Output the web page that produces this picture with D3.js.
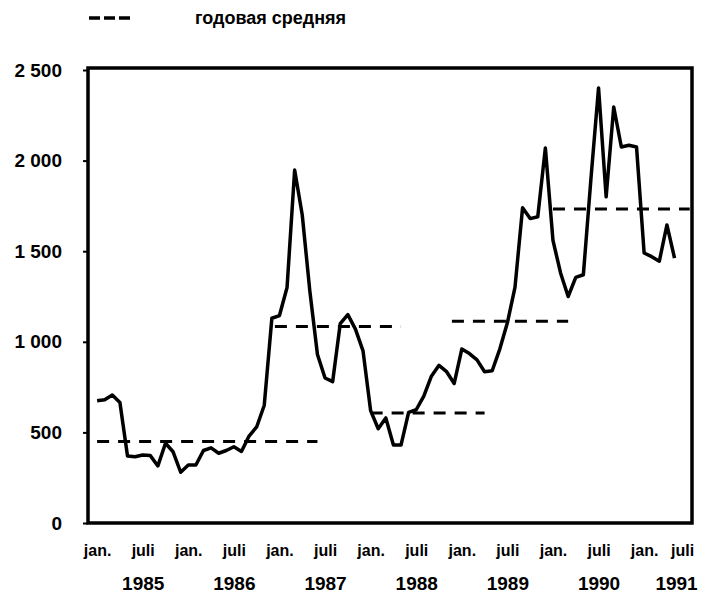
<!DOCTYPE html>
<html>
<head>
<meta charset="utf-8">
<script src="https://cdn.jsdelivr.net/npm/d3@7"></script>
<style>
  body { margin: 0; background: #fff; }
  svg { font-family: "Liberation Sans", Arial, sans-serif; }
</style>
</head>
<body>
<div id="chart"></div>
<script>
const ctx = {
    w: 702,
    h: 597,
    left: 88,
    right: 692,
    top: 70,
    bottom: 523
};

// monthly values, jan 1985 = month 0
const months = d3.range(77);
const values = [
    675, 680, 706, 665, 370, 366, 375, 372, 315, 440, 393, 280,
    320, 320, 400, 415, 385, 400, 421, 395, 480, 530, 650, 1130,
    1145, 1300, 1948, 1700, 1280, 930, 800, 780, 1100, 1150, 1070, 950,
    620, 520, 580, 430, 430, 610, 625, 700, 810, 870, 835, 770,
    960, 935, 900, 835, 840, 960, 1105, 1300, 1740, 1680, 1690, 2070,
    1560, 1380, 1250, 1355, 1370, 1900, 2401, 1800, 2296, 2075, 2085, 2075,
    1490, 1470, 1445, 1645, 1462
];

// annual average segments (start month, end month, level)
const avgStart = [0, 23.4, 36, 46.7, 60];
const avgEnd = [29, 40, 51, 62, 78];
const avgValue = [450, 1085, 607, 1113, 1733];

const yTicks = [0, 500, 1000, 1500, 2000, 2500];
const monthTicks = [0, 6, 12, 18, 24, 30, 36, 42, 48, 54, 60, 66, 72, 77];
const monthLabels = ["jan.", "juli", "jan.", "juli", "jan.", "juli", "jan.", "juli",
                     "jan.", "juli", "jan.", "juli", "jan.", "juli"];
const yearTicks = [6, 18, 30, 42, 54, 66, 76.2];
const yearLabels = ["1985", "1986", "1987", "1988", "1989", "1990", "1991"];

const legendLabel = "годовая средняя";

function createViz() {
    const svg = d3.select("#chart").append("svg")
        .attr("width", ctx.w)
        .attr("height", ctx.h);

    const x = d3.scaleLinear()
        .domain([-1.2, 78.3])
        .range([ctx.left, ctx.right]);
    const y = d3.scaleLinear()
        .domain([0, 2500])
        .range([ctx.bottom, ctx.top]);

    // legend
    svg.append("line")
        .attr("x1", 89).attr("x2", 131)
        .attr("y1", 18).attr("y2", 18)
        .attr("stroke", "#000")
        .attr("stroke-width", 3.5)
        .attr("stroke-dasharray", "11,4");
    svg.append("text")
        .attr("x", 195)
        .attr("y", 24)
        .style("font-size", "18px")
        .style("font-weight", "bold")
        .text(legendLabel);

    // y axis
    const yAxis = svg.append("g")
        .attr("transform", `translate(${ctx.left},0)`)
        .call(d3.axisLeft(y)
            .tickValues(yTicks)
            .tickSize(5)
            .tickPadding(21)
            .tickFormat(d => d3.format(",")(d).replace(",", " ")));
    yAxis.select(".domain").remove();
    yAxis.selectAll(".tick line").attr("stroke-width", 2);
    yAxis.selectAll("text")
        .style("font-size", "19px")
        .style("font-weight", "bold")
        .attr("fill", "#000");

    // x axis, month labels
    const xAxis = svg.append("g")
        .attr("transform", `translate(0,${ctx.bottom})`)
        .call(d3.axisBottom(x)
            .tickValues(monthTicks)
            .tickSize(0)
            .tickPadding(22)
            .tickFormat((d, i) => monthLabels[i]));
    xAxis.select(".domain").remove();
    xAxis.selectAll("text")
        .style("font-size", "16px")
        .style("font-weight", "bold")
        .attr("fill", "#000");

    // x axis, year labels
    const yearAxis = svg.append("g")
        .attr("transform", `translate(0,${ctx.bottom})`)
        .call(d3.axisBottom(x)
            .tickValues(yearTicks)
            .tickSize(0)
            .tickPadding(54)
            .tickFormat((d, i) => yearLabels[i]));
    yearAxis.select(".domain").remove();
    yearAxis.selectAll("text")
        .style("font-size", "19px")
        .style("font-weight", "bold")
        .attr("fill", "#000");

    // annual averages
    svg.append("g")
        .selectAll("line")
        .data(avgValue)
        .join("line")
        .attr("x1", (d, i) => x(avgStart[i]))
        .attr("x2", (d, i) => x(avgEnd[i]))
        .attr("y1", d => y(d))
        .attr("y2", d => y(d))
        .attr("stroke", "#000")
        .attr("stroke-width", 3)
        .attr("stroke-dasharray", "12,9");

    // monthly line
    const line = d3.line()
        .x((d, i) => x(months[i]))
        .y(d => y(d));
    svg.append("path")
        .datum(values)
        .attr("fill", "none")
        .attr("stroke", "#000")
        .attr("stroke-width", 3.5)
        .attr("stroke-linejoin", "round")
        .attr("d", line);

    // frame
    svg.append("rect")
        .attr("x", ctx.left)
        .attr("y", ctx.top - 2)
        .attr("width", ctx.right - ctx.left)
        .attr("height", ctx.bottom - ctx.top + 2)
        .attr("fill", "none")
        .attr("stroke", "#000")
        .attr("stroke-width", 3.5);
}

document.addEventListener("DOMContentLoaded", function () {
    createViz();
});
</script>
</body>
</html>
